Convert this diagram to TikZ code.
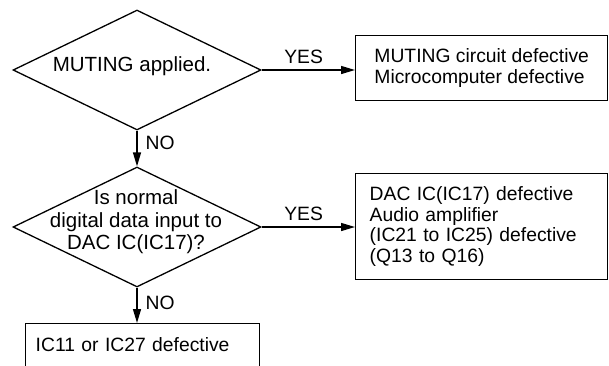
\documentclass[tikz,border=0pt]{standalone}
\usepackage{fontspec}
\setmainfont{Liberation Sans}
\usetikzlibrary{shapes.geometric,arrows.meta}
\begin{document}
\begin{tikzpicture}[x=1pt,y=-1pt,
  txt/.style={font=\fontsize{19.3}{20.5}\selectfont},
  qtxt/.style={font=\fontsize{20.5}{22.5}\selectfont},
  decision/.style={draw, diamond, line width=1.3pt, minimum width=248pt,
    minimum height=120pt, inner sep=0pt},
  result/.style={draw, rectangle, line width=1.4pt, txt, align=left,
    anchor=north west},
  flow/.style={line width=1.4pt, -{Triangle[length=14pt,width=8pt]}},
  lbl/.style={txt, inner ysep=6pt, inner xsep=8pt}]
  \clip (0,0) rectangle (609,365);
  \useasboundingbox (0,0) rectangle (609,365);

  % decisions
  \node[decision] (d1) at (137,70) {};
  \node[qtxt] (t1) at (132,66) {MUTING applied.};
  \node[decision] (d2) at (137,227) {};
  \node[qtxt, align=center] (t2) at (136,222) {Is normal\\digital data input to\\DAC IC(IC17)?};

  % outcomes
  \node[result, minimum width=252pt, minimum height=65pt] (b1) at (355,35)
    {MUTING circuit defective\\Microcomputer defective};
  \node[result, minimum width=252pt, minimum height=106pt, text width=224pt,
    inner xsep=14pt] (b2) at (355,173)
    {DAC IC(IC17) defective\\Audio amplifier\\(IC21 to IC25) defective\\(Q13 to Q16)};
  \node[result, minimum width=234pt, minimum height=44pt, text width=214pt,
    inner xsep=10pt] (b3) at (25,323) {\raisebox{2.5pt}{IC11 or IC27 defective}};

  % connectors
  \draw[flow] (d1.east) -- node[lbl, above, pos=0.45] {YES} (d1.east -| b1.west);
  \draw[flow] (d1.south) -- node[lbl, right, pos=0.35] {NO} (d2.north);
  \draw[flow] (d2.east) -- node[lbl, above, pos=0.45] {YES} (d2.east -| b2.west);
  \draw[flow] (d2.south) -- node[lbl, right, pos=0.44] {NO} (d2.south |- b3.north);
\end{tikzpicture}
\end{document}
